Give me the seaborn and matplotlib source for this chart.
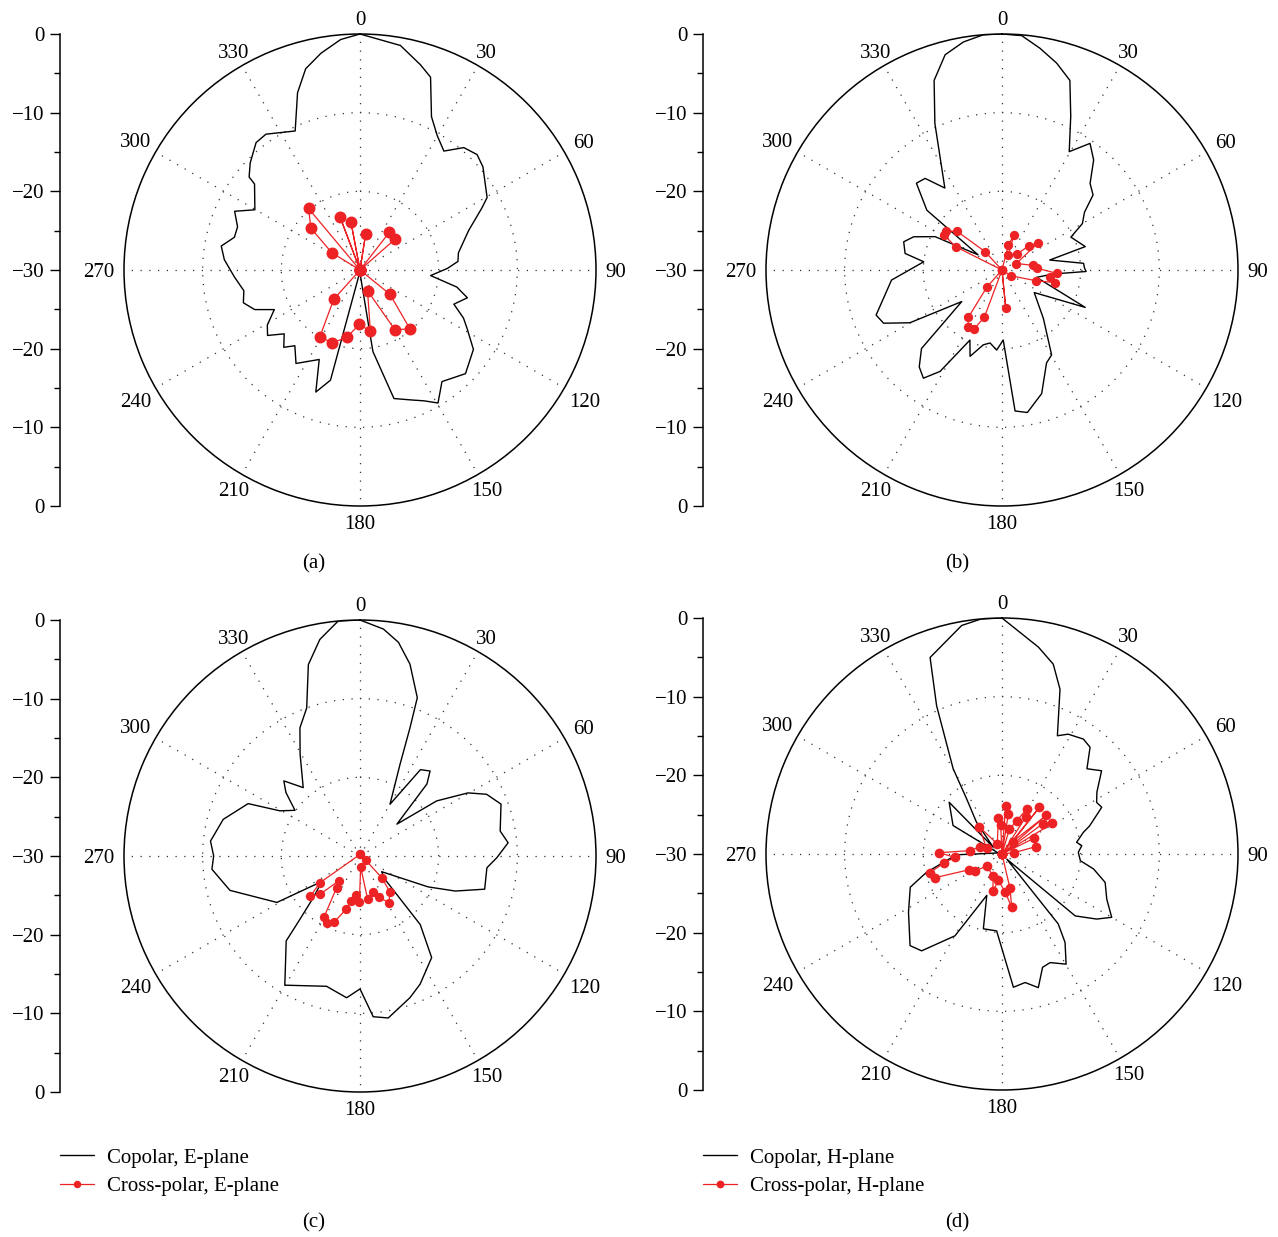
import numpy as np
import matplotlib
matplotlib.use("Agg")
import matplotlib.pyplot as plt
import seaborn as sns

# ---------------- data (angle in degrees, level in dB) ----------------
# (a) E-plane
a_co_ang = [0, 10.2, 16.4, 20.1, 25.0, 29.9, 35.2, 40.3, 45.4, 50.0, 60.3, 63.0, 70.0, 80.1, 85.0,
            89.0, 94.5, 100.0, 104.5, 110.0, 114.9, 118.6, 125.0, 134.5, 143.7, 149.6, 154.0, 158.2,
            165.2, 171.0, 178.0, 181.0, 195.0, 199.9, 204.5, 214.4, 220.7, 224.6, 229.9, 234.7, 239.3,
            245.2, 249.4, 254.3, 259.9, 266.9, 274.4, 279.8, 284.6, 289.4, 295.1, 299.8, 309.2, 310.0,
            314.3, 320.8, 325.3, 335.0, 340.6, 344.9, 349.8, 355.2, 360]
a_co_db = [0, -1.0, -2.8, -3.9, -8.5, -10.3, -11.5, -9.6, -9.1, -9.6, -11.4, -12.6, -15.3, -17.3, -17.5,
           -18.9, -21.0, -17.5, -15.9, -17.3, -15.5, -14.5, -12.4, -11.2, -12.4, -10.4, -11.5, -12.2,
           -13.1, -19.5, -29.5, -29.8, -15.5, -13.5, -17.5, -15.6, -17.3, -16.2, -17.4, -15.6, -16.3,
           -18.0, -15.7, -14.6, -15.0, -14.0, -12.7, -12.1, -13.5, -13.5, -12.4, -14.6, -12.7, -11.6,
           -10.5, -9.1, -9.0, -10.5, -6.1, -3.5, -2.0, -0.6, 0]
a_x_ang = [0, 8.9, 15, 37.9, 48.7, 55, 129, 139.7, 149.7, 160, 170.4, 180.7, 190.9, 200.8, 211,
           221.9, 230, 301.5, 310.4, 320.1, 330, 339.4, 345, 349.3, 355]
a_x_db = [-30, -25.4, -30, -23.9, -24.0, -30, -25.1, -20.2, -21.2, -27.2, -22.1, -23.1, -21.3, -20.1,
          -20.1, -25.0, -30, -25.8, -21.8, -19.8, -30, -22.8, -30, -23.8, -30]

# (b) H-plane
b_co_ang = [0, 4.8, 9.7, 14.8, 19.7, 24.1, 29.6, 34.8, 39.8, 45.5, 50.5, 55.0, 60.0, 64.5, 74.3,
            78.2, 85.3, 88.8, 91.0, 94.5, 102.0, 114.2, 125.0, 139.5, 149.7, 154.4, 162.2, 169.9,
            174.7, 179.0, 183.8, 189.3, 194.0, 200.3, 204.6, 211.4, 216.0, 220.5, 225.7, 231.9,
            240.2, 245.8, 250.3, 264.8, 276.0, 279.7, 286.0, 290.6, 296.5, 302.4, 308.5, 315.4,
            320.0, 325.1, 335.4, 340.3, 345.2, 350.4, 355.5, 360]
b_co_db = [0, -0.1, -1.4, -2.8, -4.4, -8.6, -12.7, -10.4, -11.8, -14.3, -15.0, -17.2, -18.2, -20.3,
           -19.0, -23.8, -19.6, -19.5, -19.3, -23.5, -25.5, -18.4, -25.0, -21.9, -17.5, -16.9, -13.5,
           -11.6, -12.0, -21.1, -19.8, -20.6, -20.2, -18.3, -20.2, -14.9, -13.0, -13.8, -15.7, -23.5,
           -16.5, -13.5, -13.0, -15.9, -20.0, -17.5, -17.0, -18.0, -20.5, -26.4, -17.8, -14.5, -14.8,
           -17.3, -9.5, -4.4, -1.7, -0.6, 0, 0]
b_x_ang = [0, 14.2, 18.9, 22.9, 43.1, 48.0, 53.2, 65.6, 81.5, 87.3, 93.5, 98.0, 103.4, 107.6, 121.8,
           140, 174.4, 185, 200.5, 205.3, 210.7, 215.4, 221.5, 240, 296.7, 301.1, 304.7, 310.7,
           317.2, 330, 360]
b_x_db = [-30, -26.7, -25.3, -27.9, -27.3, -25.4, -24.3, -28.0, -26.0, -25.5, -23.0, -23.9, -23.1,
          -25.5, -28.6, -30, -25.2, -30, -23.6, -21.7, -21.6, -22.6, -27.1, -30, -23.4, -21.4, -21.4,
          -22.4, -26.8, -30, -30]

# (c) E-plane
c_co_ang = [0, 5.9, 10.2, 14.6, 19.9, 21.3, 23.6, 30.1, 35.0, 39.5, 42.9, 49.2, 54.3, 59.7, 64.0,
            69.8, 79.9, 84.9, 90.7, 95.3, 104.9, 110.2, 114.4, 125.9, 133.0, 138.7, 144.8, 154.9,
            160.6, 170.1, 175.3, 180.0, 185.4, 194.4, 210.2, 221.0, 223.5, 228.2, 236.2, 240.8,
            255.2, 264.9, 270.0, 275.7, 285.0, 295.1, 299.4, 305.1, 310.6, 314.6, 320.3, 329.5,
            334.9, 340.2, 344.9, 349.5, 354.7, 360]
c_co_db = [0, -1.0, -2.4, -4.8, -8.6, -12.5, -17.3, -22.4, -16.6, -16.0, -17.5, -23.8, -18.0, -14.1,
           -12.1, -10.9, -11.9, -11.1, -12.6, -13.8, -13.6, -17.1, -20.5, -26.6, -25.7, -18.4, -14.2,
           -12.0, -10.9, -9.1, -9.5, -13.1, -11.9, -12.9, -11.0, -15.7, -18.9, -22.0, -24.2, -17.9,
           -12.9, -11.1, -11.4, -10.9, -12.0, -14.3, -18.3, -19.9, -17.6, -16.4, -18.7, -15.0, -12.0,
           -10.0, -4.8, -2.0, 0, 0]
c_x_ang = [0, 125.8, 135.0, 140.1, 148.1, 155.1, 160.9, 170.0, 176.5, 180.8, 185.9, 191.3, 194.7,
           201.3, 206.6, 210.5, 216.4, 220.3, 226.2, 231.0, 236.3, 360]
c_x_db = [-29.8, -29.1, -26.1, -24.1, -23.0, -24.2, -25.1, -24.4, -28.6, -24.1, -25.0, -24.2, -23.0,
          -21.0, -20.5, -21.0, -25.0, -25.9, -23.0, -21.9, -23.9, -29.8]

# (d) H-plane
d_co_ang = [0, 10.0, 15.1, 19.4, 25.1, 28.9, 35.3, 39.5, 44.9, 50.1, 56.9, 61.4, 64.9, 72.2, 75.1,
            81.1, 84.0, 88.7, 94.9, 99.3, 105.4, 113.3, 120.0, 124.5, 130.2, 137.0, 141.2, 144.5,
            149.8, 156.1, 160.3, 164.8, 169.8, 175.1, 184.0, 194.0, 200.2, 209.9, 219.7, 225.1,
            238.1, 250.1, 256.3, 269.0, 285.0, 300.2, 314.4, 307.6, 321.3, 327.3, 330.2, 336.2,
            339.9, 350.0, 355.0, 360]
d_co_db = [0, -3.3, -5.0, -7.8, -13.4, -12.6, -12.1, -12.4, -14.7, -13.5, -15.6, -16.3, -16.0, -18.3,
           -19.3, -20.4, -19.8, -20.3, -20.0, -18.2, -16.4, -15.5, -13.9, -15.4, -17.8, -29.1, -18.6,
           -16.2, -13.8, -14.9, -14.7, -12.4, -13.4, -13.0, -20.2, -20.2, -24.4, -18.0, -14.0, -13.5,
           -16.0, -17.6, -20.1, -24.2, -29.5, -22.8, -20.6, -28.6, -24.8, -21.7, -17.5, -9.4, -3.4,
           -0.5, 0, 0]
d_x_ang = [0, 4.4, 9.0, 14, 16.6, 23.7, 29.0, 32.7, 36, 38.7, 40.9, 48.9, 52, 53.4, 58.8, 62, 63.9,
           77.8, 83.7, 100, 166.9, 169.7, 175.4, 187.8, 193.9, 201.5, 232.0, 237.8, 244.6, 250.5,
           255.5, 261.0, 265.9, 271.2, 276.0, 288.4, 290.3, 320.1, 335.0, 354.1, 357.4, 360]
d_x_db = [-30, -23.9, -24.9, -30, -26.7, -25.4, -23.4, -24.4, -30, -22.4, -27.9, -22.5, -30, -23.5,
          -22.5, -30, -25.5, -25.6, -28.5, -30, -25.5, -23.1, -25.2, -26.6, -25.1, -27.0, -27.5,
          -25.9, -25.3, -21.0, -20.5, -22.5, -24.0, -22.0, -25.9, -27.1, -27.9, -25.5, -28.6, -25.4,
          -26.3, -30]

theta_ticks = list(range(0, 360, 30))
theta_labels = [str(d) for d in theta_ticks]
level_ticks = [0, 10, 20, 30, 40, 50, 60]
level_labels = ["0", "\u221210", "\u221220", "\u221230", "\u221220", "\u221210", "0"]
panel_letters = ["(a)", "(b)", "(c)", "(d)"]
legend_e = ["Copolar, E-plane", "Cross-polar, E-plane"]
legend_h = ["Copolar, H-plane", "Cross-polar, H-plane"]

# ---------------- styling ----------------
sns.set_theme(style="ticks")
plt.rcParams["font.family"] = ["Liberation Serif", "DejaVu Serif"]
plt.rcParams["axes.unicode_minus"] = True
for k in ["text.color", "axes.labelcolor", "xtick.color", "ytick.color", "axes.edgecolor"]:
    plt.rcParams[k] = "black"

W, H = 1278, 1237
R = 236
RED = "#ED2224"
FS = 15
DIGIT_W = FS * 100 / 72 * 0.5      # px width of one digit
DIGIT_H = FS * 100 / 72 * 0.66     # px height of a digit
GAP = 9.5                          # px gap between circle and label box
PX2DB = 30.0 / R

fig = plt.figure(figsize=(W / 100, H / 100), dpi=100)


def label_offset(t, nchar):
    hw = nchar * DIGIT_W / 2
    hh = DIGIT_H / 2
    s, c = abs(np.sin(t)), abs(np.cos(t))
    cands = []
    if s > 1e-6:
        cands.append(hw / s)
    if c > 1e-6:
        cands.append(hh / c)
    return min(cands)


def polar_panel(cx, cy, axis_x, co_ang, co_db, x_ang, x_db, msize):
    ax = fig.add_axes([(cx - R) / W, 1 - (cy + R) / H, 2 * R / W, 2 * R / H], projection="polar")
    ax.set_theta_zero_location("N")
    ax.set_theta_direction(-1)
    sns.lineplot(x=np.deg2rad(co_ang), y=co_db, ax=ax, sort=False, estimator=None,
                 color="black", linewidth=1.0, legend=False)
    sns.lineplot(x=np.deg2rad(x_ang), y=x_db, ax=ax, sort=False, estimator=None,
                 color=RED, linewidth=0.9, marker="o", markersize=msize,
                 markeredgewidth=0, markeredgecolor=RED, markerfacecolor=RED, legend=False)
    ax.set_ylim(-30, 0)
    ax.set_xlabel("")
    ax.set_ylabel("")
    ax.set_xticks(np.deg2rad(theta_ticks))
    ax.set_xticklabels([])
    ax.set_xticks(np.deg2rad(np.arange(15, 360, 30)), minor=True)
    ax.set_yticks([-20, -10])
    ax.set_yticklabels([])
    ax.tick_params(axis="y", length=0)
    ax.tick_params(axis="x", which="major", direction="in", length=8, width=1.0, colors="black")
    ax.tick_params(axis="x", which="minor", direction="in", length=5, width=1.0, colors="black")
    ax.grid(True, which="major", linestyle=(0, (1, 6)), color="#333333", linewidth=0.9)
    ax.spines["polar"].set_linewidth(1.1)
    ax.spines["polar"].set_color("black")
    # angle labels placed just outside the circle
    for d, lab in zip(theta_ticks, theta_labels):
        t = np.deg2rad(d)
        off = GAP + label_offset(t, len(lab))
        ax.text(t, off * PX2DB, lab, ha="center", va="center_baseline",
                fontsize=FS, clip_on=False)

    lax = fig.add_axes([axis_x / W, 1 - (cy + R) / H, 0.002, 2 * R / H])
    lax.set_ylim(0, 60)
    lax.set_yticks(level_ticks)
    lax.set_yticklabels(level_labels)
    lax.set_yticks(np.arange(5, 60, 10), minor=True)
    lax.tick_params(axis="y", which="major", direction="out", length=7, width=1.0, pad=4,
                    labelsize=FS)
    lax.tick_params(axis="y", which="minor", direction="out", length=4, width=1.0)
    lax.set_xticks([])
    for s in ["top", "right", "bottom"]:
        lax.spines[s].set_visible(False)
    lax.spines["left"].set_linewidth(1.1)
    lax.patch.set_alpha(0)
    return ax


ax_a = polar_panel(360, 270, 60, a_co_ang, a_co_db, a_x_ang, a_x_db, 8.6)
ax_b = polar_panel(1002, 270, 703, b_co_ang, b_co_db, b_x_ang, b_x_db, 6.7)
ax_c = polar_panel(360, 856, 60, c_co_ang, c_co_db, c_x_ang, c_x_db, 6.7)
ax_d = polar_panel(1002, 854, 703, d_co_ang, d_co_db, d_x_ang, d_x_db, 7.0)

for (x, y), lab in zip([(314, 564), (957, 564), (314, 1223), (957, 1223)], panel_letters):
    fig.text(x / W, 1 - y / H, lab, ha="center", va="center", fontsize=FS)

for ax, (x0, labels) in [(ax_c, (60, legend_e)), (ax_d, (703, legend_h))]:
    handles = ax.get_lines()[-2:]
    fig.legend(handles, labels, loc="upper left", bbox_to_anchor=(x0 / W, 1 - 1148 / H),
               frameon=False, fontsize=FS, handlelength=1.65, handletextpad=0.6,
               labelspacing=0.42, borderpad=0, borderaxespad=0, numpoints=1, markerscale=0.8)

fig.savefig("out.png", dpi=100)
